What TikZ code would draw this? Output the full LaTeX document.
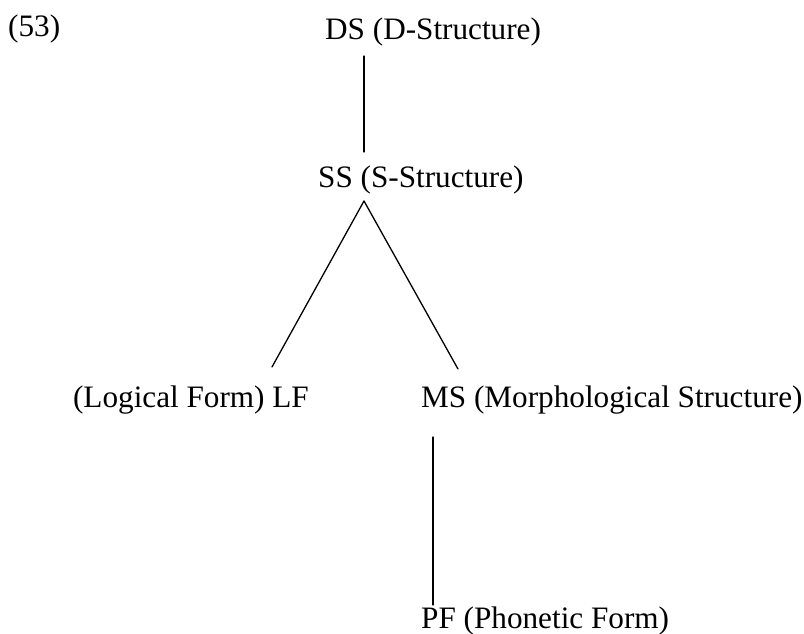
\documentclass[tikz,border=0pt]{standalone}
\usepackage{fontspec}
\setmainfont{Liberation Serif}
\begin{document}
\begin{tikzpicture}[x=1pt,y=-1pt,
  lbl/.style={anchor=base west,inner sep=0pt,font=\fontsize{31.2}{36}\selectfont},
  edge/.style={line width=1.3pt,line cap=round}]
\useasboundingbox (0,0) rectangle (804,634);
\node[lbl] (num) at (8,37) {(53)};
\node[lbl] (ds) at (325,40) {DS (D-Structure)};
\node[lbl] (ss) at (318,187) {SS (S-Structure)};
\node[lbl,anchor=base east] (lf) at (309,407) {(Logical Form) LF};
\node[lbl] (ms) at (421,407) {MS (Morphological Structure)};
\node[lbl] (pf) at (421,628) {PF (Phonetic Form)};
\coordinate (dsb) at (364,56);
\coordinate (sst) at (364,152);
\coordinate (ssb) at (364,201);
\coordinate (lft) at (272,367);
\coordinate (mst) at (458,369);
\coordinate (msb) at (433,437);
\coordinate (pft) at (433,605);
\draw[edge] (dsb) -- (sst);
\draw[edge] (ssb) -- (lft);
\draw[edge] (ssb) -- (mst);
\draw[edge] (msb) -- (pft);
\end{tikzpicture}
\end{document}
